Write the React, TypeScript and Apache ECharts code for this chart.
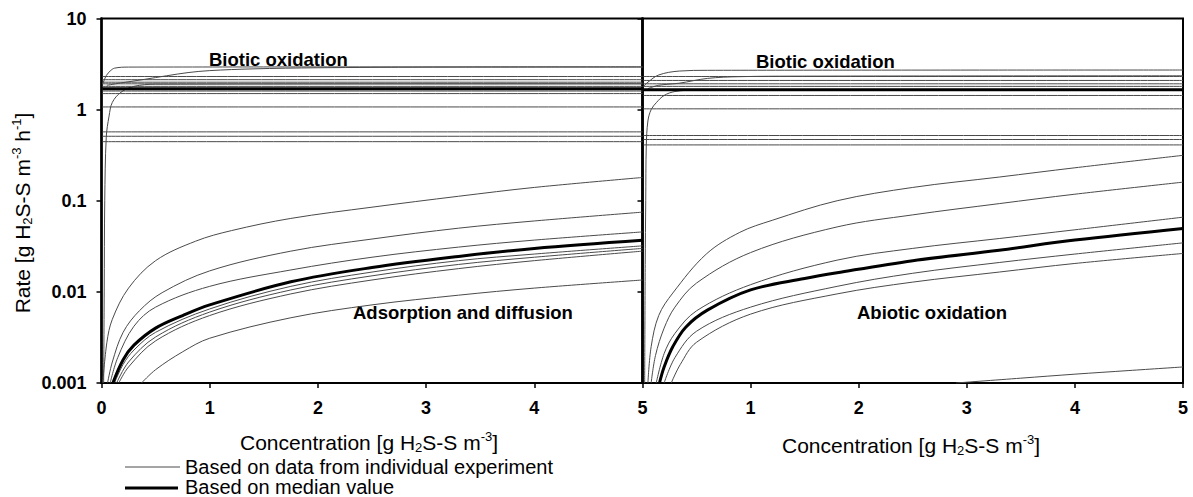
import React, { useEffect, useRef } from "react";
import * as echarts from "echarts";

// ---------- axes ----------
const xTickValues = [0, 1, 2, 3, 4, 5];
const yTickValues = [0.001, 0.01, 0.1, 1, 10];
const yTickLabels = ["0.001", "0.01", "0.1", "1", "10"];

// ---------- left panel: biotic oxidation ----------
const leftBioticLevels = [2.31, 2.13, 2.0, 1.92, 1.8, 1.6, 1.5, 1.07, 0.57, 0.51, 0.445];
const leftBioticMedian = 1.7;
const leftBioticTop = [[0.01, 1.9], [0.045, 2.37], [0.08, 2.65], [0.12, 2.85], [0.25, 2.93], [5, 2.95]];
const leftBioticSlow = [[0.05, 1.85], [0.2, 1.98], [0.4, 2.15], [0.6, 2.35], [0.8, 2.55], [1.0, 2.68], [1.4, 2.8], [2, 2.88], [3, 2.92], [5, 2.93]];
const leftBioticSteep = [[0.02, 0.001], [0.025, 0.01], [0.03, 0.1], [0.044, 0.5], [0.07, 0.85], [0.1, 1.2], [0.18, 1.55], [0.3, 1.8], [0.5, 1.9], [5, 1.92]];

// ---------- left panel: adsorption and diffusion ----------
const adsA = [[0.012, 0.001], [0.05, 0.0028], [0.1, 0.005], [0.25, 0.011], [0.5, 0.022], [0.87, 0.036], [1.2, 0.047], [1.75, 0.064], [2.5, 0.085], [3.3, 0.112], [4, 0.14], [5, 0.18]];
const adsB = [[0.056, 0.001], [0.1, 0.0017], [0.2, 0.0036], [0.35, 0.0062], [0.56, 0.0098], [1, 0.017], [1.75, 0.028], [2.5, 0.038], [3.3, 0.05], [4, 0.06], [5, 0.075]];
const adsC = [[0.08, 0.001], [0.15, 0.0019], [0.3, 0.0042], [0.5, 0.0068], [1, 0.0115], [1.75, 0.0174], [2.5, 0.024], [3.3, 0.031], [4, 0.037], [5, 0.0455]];
const adsMedian = [[0.105, 0.001], [0.2, 0.0018], [0.3, 0.0026], [0.5, 0.004], [0.75, 0.0055], [1, 0.0072], [1.75, 0.0129], [2.5, 0.0185], [3.3, 0.0245], [4, 0.03], [5, 0.0369]];
const adsD = [[0.12, 0.001], [0.2, 0.0016], [0.3, 0.0023], [0.5, 0.0036], [1, 0.0065], [1.75, 0.0115], [2.5, 0.0165], [3.3, 0.022], [4, 0.026], [5, 0.032]];
const adsE = [[0.14, 0.001], [0.25, 0.0017], [0.5, 0.0032], [1, 0.006], [1.75, 0.0105], [2.5, 0.015], [3.3, 0.02], [4, 0.024], [5, 0.03]];
const adsF = [[0.16, 0.001], [0.25, 0.0015], [0.5, 0.0029], [1, 0.0055], [1.75, 0.0095], [2.5, 0.0135], [3.3, 0.018], [4, 0.022], [5, 0.028]];
const adsG = [[0.37, 0.001], [0.5, 0.0014], [0.75, 0.0022], [1, 0.0031], [1.75, 0.0052], [2.5, 0.0072], [3.3, 0.0092], [4, 0.011], [5, 0.0135]];

// ---------- right panel: biotic oxidation ----------
const rightBioticLevels = [2.31, 2.09, 1.92, 1.8, 1.43, 1.02, 0.52, 0.47, 0.41];
const rightBioticMedian = 1.65;
const rightBioticTop = [[0.01, 1.8], [0.05, 2.0], [0.15, 2.4], [0.34, 2.65], [0.6, 2.7], [5, 2.72]];
const rightBioticSlow = [[0.05, 1.7], [0.15, 1.85], [0.34, 1.95], [0.6, 2.2], [0.9, 2.3], [1.5, 2.33], [5, 2.35]];
const rightBioticSteep = [[0.02, 0.001], [0.025, 0.02], [0.03, 0.1], [0.035, 0.4], [0.05, 0.75], [0.08, 1.0], [0.13, 1.2], [0.2, 1.43], [0.3, 1.58], [0.5, 1.64], [5, 1.65]];

// ---------- right panel: abiotic oxidation ----------
const abA = [[0.05, 0.001], [0.08, 0.0025], [0.15, 0.0055], [0.28, 0.0097], [0.59, 0.026], [0.9, 0.045], [1.2, 0.061], [1.8, 0.1], [2.5, 0.14], [3.3, 0.182], [4, 0.23], [5, 0.315]];
const abB = [[0.08, 0.001], [0.12, 0.002], [0.2, 0.004], [0.3, 0.0068], [0.5, 0.0125], [1, 0.027], [1.8, 0.0516], [2.5, 0.07], [3.3, 0.093], [4, 0.118], [5, 0.16]];
const abC = [[0.127, 0.001], [0.2, 0.0021], [0.3, 0.0035], [0.5, 0.0062], [1, 0.012], [1.8, 0.0223], [2.5, 0.03], [3.3, 0.0385], [4, 0.048], [5, 0.066]];
const abMedian = [[0.157, 0.001], [0.2, 0.0015], [0.28, 0.0025], [0.4, 0.0041], [0.6, 0.0063], [1, 0.0105], [1.5, 0.014], [1.8, 0.0162], [2.5, 0.022], [3.3, 0.0287], [4, 0.037], [5, 0.0496]];
const abD = [[0.2, 0.001], [0.3, 0.0019], [0.5, 0.0037], [1, 0.0068], [1.8, 0.0115], [2.5, 0.016], [3.3, 0.021], [4, 0.026], [5, 0.0345]];
const abE = [[0.266, 0.001], [0.35, 0.0016], [0.5, 0.0028], [1, 0.0057], [1.8, 0.0095], [2.5, 0.0128], [3.3, 0.0165], [4, 0.0205], [5, 0.0264]];
const abLow = [[2.9, 0.001], [3.5, 0.00113], [4, 0.00125], [4.5, 0.00137], [5, 0.0015]];

// ---------- texts ----------
const legendLabels = ["Based on data from individual experiment", "Based on median value"];
const xTitle = "Concentration [g H{sub|2}S-S m{sup|-3}]";
const yTitle = "Rate [g H{sub|2}S-S m{sup|-3} h{sup|-1}]";

const FONT = "'Liberation Sans', Arial, Helvetica, sans-serif";

export default function App() {
  const ref = useRef<HTMLDivElement>(null);
  useEffect(() => {
    const chart = echarts.init(ref.current as HTMLDivElement, null, { renderer: "svg" });

    const thin = (idx: number, data: number[][]) => ({
      type: "line", xAxisIndex: idx, yAxisIndex: idx, data, symbol: "none",
      smooth: 0.35, silent: true, z: 2,
      lineStyle: { color: "#4a4a4a", width: 1 },
    });
    const thick = (idx: number, data: number[][]) => ({
      type: "line", xAxisIndex: idx, yAxisIndex: idx, data, symbol: "none",
      smooth: 0.35, silent: true, z: 3,
      lineStyle: { color: "#000", width: 3 },
    });
    const level = (v: number) => [[0.008, v], [5, v]];

    const series: any[] = [];
    leftBioticLevels.forEach((v) => series.push(thin(0, level(v))));
    series.push(thin(0, leftBioticTop), thin(0, leftBioticSlow), thin(0, leftBioticSteep));
    [adsA, adsB, adsC, adsD, adsE, adsF, adsG].forEach((d) => series.push(thin(0, d)));
    series.push(thick(0, level(leftBioticMedian)), thick(0, adsMedian));

    rightBioticLevels.forEach((v) => series.push(thin(1, level(v))));
    series.push(thin(1, rightBioticTop), thin(1, rightBioticSlow), thin(1, rightBioticSteep));
    [abA, abB, abC, abD, abE, abLow].forEach((d) => series.push(thin(1, d)));
    series.push(thick(1, level(rightBioticMedian)), thick(1, abMedian));

    const yLabel = (v: number) => {
      const i = yTickValues.findIndex((t) => Math.abs(Math.log10(t) - Math.log10(v)) < 1e-6);
      return i >= 0 ? yTickLabels[i] : "";
    };

    const xAxisBase = (show0: boolean) => ({
      type: "value", min: xTickValues[0], max: xTickValues[xTickValues.length - 1], interval: 1,
      axisLine: { lineStyle: { color: "#000", width: 2 } },
      axisTick: { show: true, inside: false, length: 5, lineStyle: { color: "#000", width: 1.5 } },
      axisLabel: { show: true, showMinLabel: show0, margin: 16, fontSize: 18, fontWeight: "bold", fontFamily: FONT, color: "#000" },
      splitLine: { show: false },
    });
    const yAxisBase = (showLabels: boolean) => ({
      type: "log", logBase: 10, min: 0.001, max: 10,
      axisLine: { lineStyle: { color: "#000", width: 2.5 } },
      axisTick: { show: true, inside: false, length: 5, lineStyle: { color: "#000", width: 1.5 } },
      axisLabel: { show: showLabels, margin: 15, fontSize: 18, fontWeight: "bold", fontFamily: FONT, color: "#000", formatter: yLabel },
      splitLine: { show: false },
      minorTick: { show: false },
    });

    const rich = {
      sub: { fontSize: 13, lineHeight: 10, verticalAlign: "bottom", fontFamily: FONT, fill: "#000" },
      sup: { fontSize: 13, lineHeight: 10, verticalAlign: "top", fontFamily: FONT, fill: "#000" },
    };
    const titleStyle = (text: string) => ({
      text, rich, fontSize: 21, lineHeight: 24, fontFamily: FONT, fill: "#000",
      align: "left", verticalAlign: "middle",
    });
    const note = (text: string, x: number, y: number) => ({
      type: "text", x, y, silent: true,
      style: { text, fontSize: 18.5, fontWeight: "bold", fontFamily: FONT, fill: "#000", align: "left", verticalAlign: "middle" },
    });

    chart.setOption({
      animation: false,
      backgroundColor: "#fff",
      grid: [
        { left: 101.5, top: 18.5, width: 541, height: 364.5, show: true, borderColor: "#000", borderWidth: 2, backgroundColor: "transparent" },
        { left: 642.5, top: 18.5, width: 540.5, height: 364.5, show: true, borderColor: "#000", borderWidth: 2, backgroundColor: "transparent" },
      ],
      xAxis: [{ ...xAxisBase(true), gridIndex: 0 }, { ...xAxisBase(false), gridIndex: 1 }],
      yAxis: [{ ...yAxisBase(true), gridIndex: 0 }, { ...yAxisBase(false), gridIndex: 1 }],
      series,
      graphic: [
        note("Biotic oxidation", 209, 59),
        note("Biotic oxidation", 756, 61),
        note("Adsorption and diffusion", 353, 312),
        note("Abiotic oxidation", 857, 312),
        { type: "text", x: 240, y: 442, silent: true, style: titleStyle(xTitle) },
        { type: "text", x: 782, y: 445, silent: true, style: titleStyle(xTitle) },
        { type: "text", x: 22, y: 213, rotation: Math.PI / 2, silent: true, style: { ...titleStyle(yTitle), align: "center" } },
        { type: "line", silent: true, shape: { x1: 125, y1: 467, x2: 180, y2: 467 }, style: { stroke: "#4a4a4a", lineWidth: 1 } },
        { type: "line", silent: true, shape: { x1: 125, y1: 488, x2: 178, y2: 488 }, style: { stroke: "#000", lineWidth: 3.2 } },
        { type: "text", x: 185, y: 466.5, silent: true, style: { text: legendLabels[0], fontSize: 20, fontFamily: FONT, fill: "#000", align: "left", verticalAlign: "middle" } },
        { type: "text", x: 185, y: 487, silent: true, style: { text: legendLabels[1], fontSize: 20, fontFamily: FONT, fill: "#000", align: "left", verticalAlign: "middle" } },
      ],
    });
    return () => chart.dispose();
  }, []);
  return <div ref={ref} style={{ position: "fixed", left: 0, top: 0, width: 1193, height: 497, background: "#fff" }} />;
}
